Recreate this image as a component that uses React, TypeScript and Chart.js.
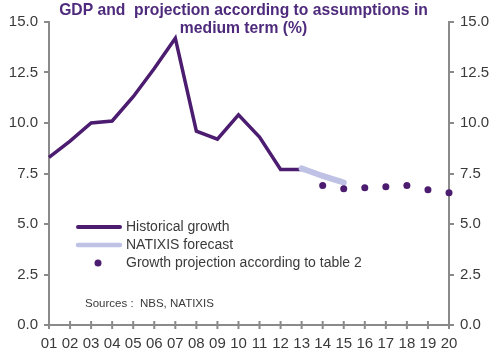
import React, { useEffect, useRef } from 'react';
import { Chart, registerables } from 'chart.js';

Chart.register(...registerables);

const years = ['01', '02', '03', '04', '05', '06', '07', '08', '09', '10', '11', '12', '13', '14', '15', '16', '17', '18', '19', '20'];
const historical: (number | null)[] = [8.3, 9.1, 10.0, 10.1, 11.3, 12.7, 14.2, 9.6, 9.2, 10.4, 9.3, 7.7, 7.7, null, null, null, null, null, null, null];
const natixisForecast: (number | null)[] = [null, null, null, null, null, null, null, null, null, null, null, null, 7.75, 7.38, 7.05, null, null, null, null, null];
const projection: (number | null)[] = [null, null, null, null, null, null, null, null, null, null, null, null, null, 6.9, 6.75, 6.8, 6.85, 6.9, 6.7, 6.55];
const yMin = 0;
const yMax = 15;
const yStep = 2.5;
const titleLines = ['GDP and  projection according to assumptions in', 'medium term (%)'];
const legendLabels = ['Historical growth', 'NATIXIS forecast', 'Growth projection according to table 2'];
const sourceText = 'Sources :  NBS, NATIXIS';

const DARK = '#4b1c6f';
const LIGHT = '#bfc2e4';
const AXIS = '#8a8a8a';
const TEXT = '#3a3a3a';
const TITLE = '#4e2a7c';
const FONT = "'Liberation Sans', Arial, sans-serif";

const decorPlugin = {
  id: 'decor',
  afterDraw(chart: any) {
    const ctx = chart.ctx;
    const area = chart.chartArea;
    const xs = chart.scales.x;
    ctx.save();
    // x-axis crossing ticks
    ctx.strokeStyle = AXIS;
    ctx.lineWidth = 2;
    for (let i = 0; i < years.length; i++) {
      const px = xs.getPixelForValue(i);
      ctx.beginPath();
      ctx.moveTo(px, area.bottom - 4);
      ctx.lineTo(px, area.bottom + 4);
      ctx.stroke();
    }
    // title
    ctx.fillStyle = TITLE;
    ctx.font = `bold 15.7px ${FONT}`;
    ctx.textAlign = 'center';
    ctx.textBaseline = 'middle';
    const cx = area.left + (area.right - area.left) / 2 - 5.5;
    ctx.fillText(titleLines[0], cx, 11);
    ctx.fillText(titleLines[1], cx, 28.5);
    // legend
    const lx0 = area.left + 29;
    const lx1 = area.left + 71;
    const tx = area.left + 77;
    const rows = [227, 245, 263];
    ctx.lineCap = 'round';
    ctx.strokeStyle = DARK;
    ctx.lineWidth = 4;
    ctx.beginPath();
    ctx.moveTo(lx0, rows[0]);
    ctx.lineTo(lx1, rows[0]);
    ctx.stroke();
    ctx.strokeStyle = LIGHT;
    ctx.lineWidth = 4.5;
    ctx.beginPath();
    ctx.moveTo(lx0, rows[1]);
    ctx.lineTo(lx1, rows[1]);
    ctx.stroke();
    ctx.fillStyle = DARK;
    ctx.beginPath();
    ctx.arc((lx0 + lx1) / 2 - 1, rows[2], 3.5, 0, Math.PI * 2);
    ctx.fill();
    ctx.fillStyle = TEXT;
    ctx.font = `14px ${FONT}`;
    ctx.textAlign = 'left';
    for (let i = 0; i < legendLabels.length; i++) {
      ctx.fillText(legendLabels[i], tx, rows[i]);
    }
    ctx.font = `11.5px ${FONT}`;
    ctx.fillText(sourceText, area.left + 36, 304);
    ctx.restore();
  },
};

export default function App() {
  const ref = useRef<HTMLCanvasElement | null>(null);
  useEffect(() => {
    if (!ref.current) return;
    const yTickCfg = {
      color: TEXT,
      font: { family: FONT, size: 15 },
      padding: 6,
      callback: (v: any) => Number(v).toFixed(1),
    };
    const chart = new Chart(ref.current, {
      type: 'line',
      data: {
        labels: years,
        datasets: [
          {
            label: legendLabels[0],
            data: historical,
            borderColor: DARK,
            borderWidth: 3.5,
            pointRadius: 0,
            tension: 0,
            order: 2,
            yAxisID: 'y',
          },
          {
            label: legendLabels[1],
            data: natixisForecast,
            borderColor: LIGHT,
            borderWidth: 6,
            borderCapStyle: 'round',
            pointRadius: 0,
            tension: 0.2,
            order: 1,
            yAxisID: 'y',
          },
          {
            label: legendLabels[2],
            data: projection,
            showLine: false,
            pointRadius: 3.5,
            pointBackgroundColor: DARK,
            pointBorderColor: DARK,
            pointBorderWidth: 0,
            order: 0,
            yAxisID: 'y',
          },
        ] as any,
      },
      options: {
        animation: false,
        responsive: true,
        maintainAspectRatio: false,
        layout: { padding: { top: 22, bottom: 0, left: 0, right: 0 } },
        plugins: { legend: { display: false }, title: { display: false }, tooltip: { enabled: false } },
        scales: {
          x: {
            type: 'category',
            offset: false,
            afterFit: (s: any) => { s.height = 36; },
            grid: { drawOnChartArea: false, drawTicks: false },
            border: { color: AXIS, width: 2 },
            ticks: { color: TEXT, font: { family: FONT, size: 15 }, padding: 10, autoSkip: false, maxRotation: 0 },
          },
          y: {
            position: 'left',
            min: yMin,
            max: yMax,
            afterFit: (s: any) => { s.width = 49; },
            grid: { drawOnChartArea: false, tickLength: 5, color: AXIS, lineWidth: 2 },
            border: { color: AXIS, width: 2 },
            ticks: { ...yTickCfg, stepSize: yStep },
          },
          y2: {
            position: 'right',
            min: yMin,
            max: yMax,
            afterFit: (s: any) => { s.width = 51; },
            grid: { drawOnChartArea: false, tickLength: 5, color: AXIS, lineWidth: 2 },
            border: { color: AXIS, width: 2 },
            ticks: { ...yTickCfg, stepSize: yStep },
          },
        },
      } as any,
      plugins: [decorPlugin],
    });
    return () => chart.destroy();
  }, []);
  return (
    <div style={{ position: 'absolute', left: 0, top: 0, width: 500, height: 361, background: '#fff' }}>
      <canvas ref={ref} />
    </div>
  );
}
